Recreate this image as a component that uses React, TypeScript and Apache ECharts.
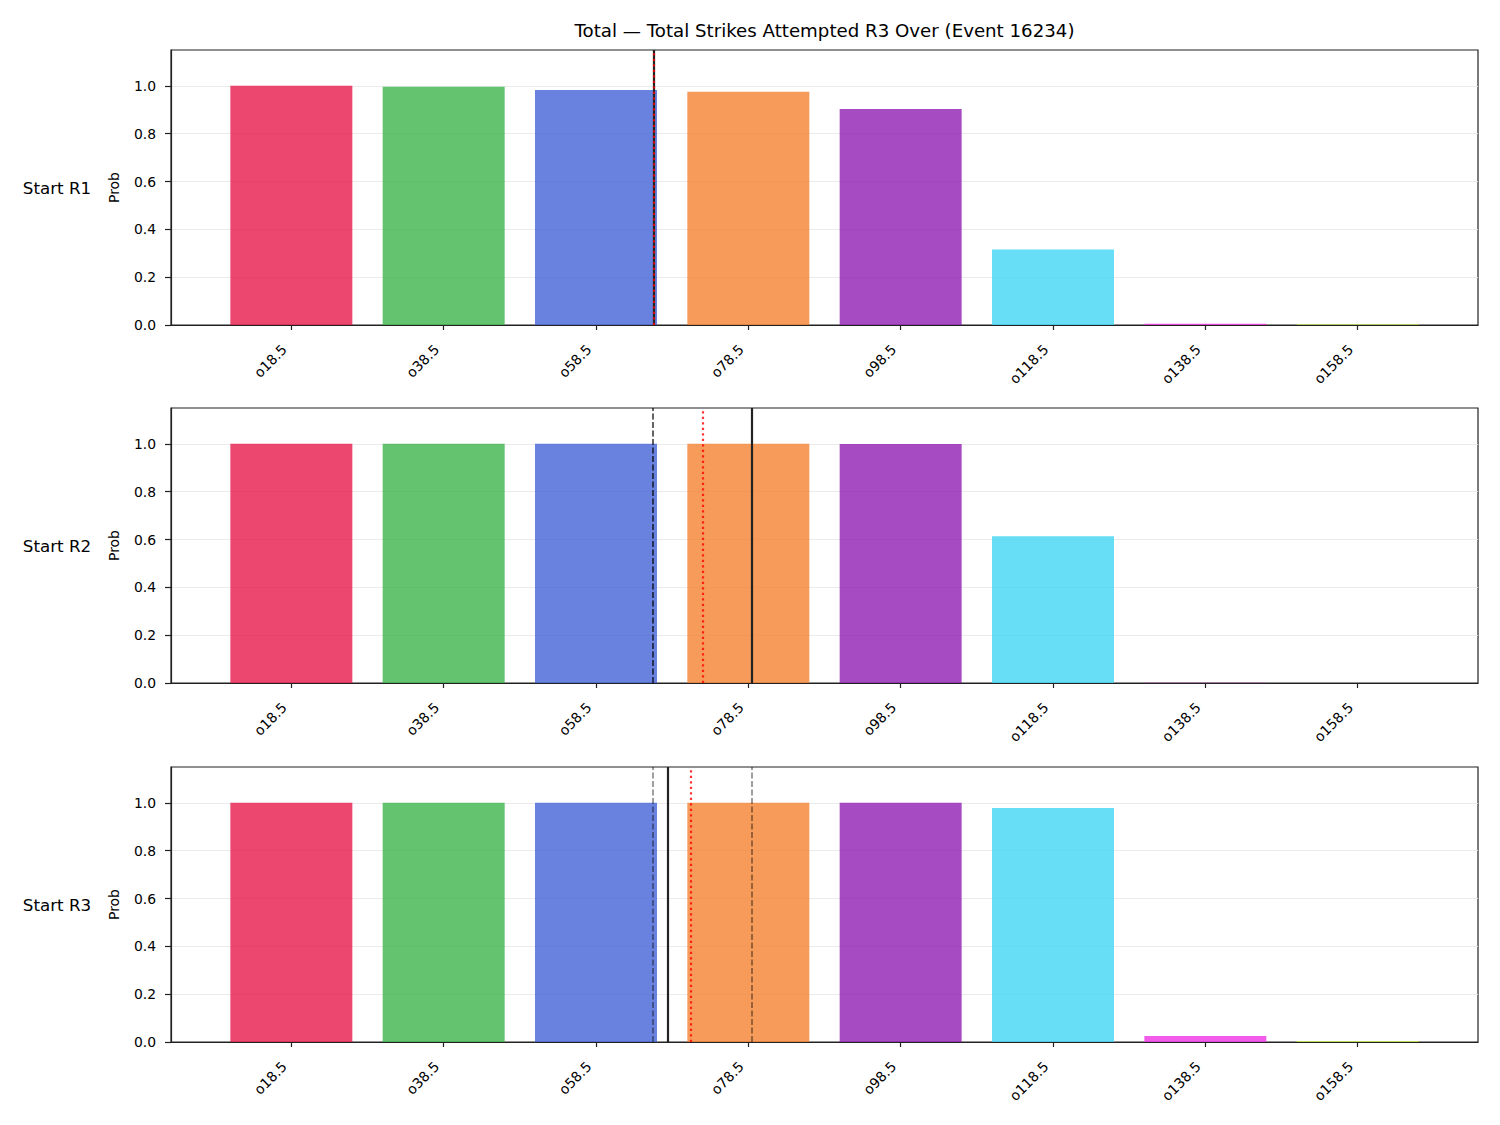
import React, { useEffect, useRef } from "react";
import * as echarts from "echarts";

const categories = ["o18.5", "o38.5", "o58.5", "o78.5", "o98.5", "o118.5", "o138.5", "o158.5"];
const barColors = ["#e6194b", "#3cb44b", "#4363d8", "#f58231", "#911eb4", "#42d4f4", "#f032e6", "#bfef45"];
const panelNames = ["Start R1", "Start R2", "Start R3"];

const probsR1 = [1.0, 0.996, 0.983, 0.975, 0.903, 0.316, 0.005, 0.003];
const probsR2 = [1.0, 1.0, 1.0, 1.0, 0.999, 0.614, 0.001, 0.0005];
const probsR3 = [1.0, 1.0, 1.0, 1.0, 1.0, 0.979, 0.025, 0.004];
const panelProbs = [probsR1, probsR2, probsR3];

// vertical reference lines, in category-index units
const dashedLo = [2.375, 2.371, 2.371];
const dashedHi = [2.375, 2.371, 3.023];
const solidLine = [2.375, 3.025, 2.474];
const dottedLine = [2.375, 2.703, 2.623];

const title = "Total — Total Strikes Attempted R3 Over (Event 16234)";
const yTicks = [0, 0.2, 0.4, 0.6, 0.8, 1.0];
const xTicks = [0, 1, 2, 3, 4, 5, 6, 7];

const FONT = "DejaVu Sans";
const tops = [50, 408, 767];
const H = 275;

export default function App() {
  const ref = useRef<HTMLDivElement>(null);
  useEffect(() => {
    document.body.style.margin = "0";
    if (!ref.current) return;
    const chart = echarts.init(ref.current, null, { renderer: "svg" });
    const grids = tops.map((t) => ({
      left: 171,
      right: 22,
      top: t,
      height: H,
      show: true,
      borderColor: "#222",
      borderWidth: 1.2,
      backgroundColor: "transparent",
    }));
    const xAxes = tops.map((_, k) => ({
      type: "value",
      gridIndex: k,
      min: -0.79,
      max: 7.79,
      splitLine: { show: false },
      axisLine: { show: true, onZero: false, lineStyle: { color: "#222", width: 1.2 } },
      axisTick: { show: true, length: 5, customValues: xTicks, lineStyle: { color: "#222", width: 1.2 } },
      axisLabel: {
        customValues: xTicks,
        rotate: 45,
        margin: 15,
        padding: [0, 10, 0, 0],
        fontFamily: FONT,
        fontSize: 13.9,
        color: "#000",
        formatter: (v: number) => categories[Math.round(v)] ?? "",
      },
    }));
    const yAxes = tops.map((_, k) => ({
      type: "value",
      gridIndex: k,
      min: 0,
      max: 1.15,
      name: "Prob",
      nameLocation: "middle",
      nameRotate: 90,
      nameGap: 50,
      nameTextStyle: { fontFamily: FONT, fontSize: 13.9, color: "#000" },
      axisLine: { show: true, onZero: false, lineStyle: { color: "#222", width: 1.2 } },
      axisTick: { show: true, length: 6, customValues: yTicks, lineStyle: { color: "#222", width: 1.2 } },
      splitLine: { show: true, lineStyle: { color: "#e6e6e6", width: 0.8 } },
      axisLabel: {
        customValues: yTicks,
        margin: 15,
        fontFamily: FONT,
        fontSize: 13.9,
        color: "#000",
        formatter: (v: number) => v.toFixed(1),
      },
    }));
    const series = panelProbs.map((probs, k) => ({
      type: "bar",
      xAxisIndex: k,
      yAxisIndex: k,
      barWidth: 122,
      data: probs.map((v, i) => ({
        value: [i, v],
        itemStyle: { color: barColors[i], opacity: 0.8 },
      })),
      markLine: {
        silent: true,
        symbol: ["none", "none"],
        label: { show: false },
        emphasis: { disabled: true },
        data: [
          { xAxis: dashedLo[k], lineStyle: { color: "rgba(0,0,0,0.5)", width: 1.5, type: [6, 2.5] } },
          { xAxis: dashedHi[k], lineStyle: { color: "rgba(0,0,0,0.5)", width: 1.5, type: [6, 2.5] } },
          { xAxis: solidLine[k], lineStyle: { color: "#222", width: 2.2, type: "solid" } },
          { xAxis: dottedLine[k], lineStyle: { color: "rgba(255,0,0,0.8)", width: 2.2, type: [2.2, 3.3] } },
        ],
      },
    }));
    const graphic: any[] = [
      {
        type: "text",
        x: 824.5,
        y: 30,
        style: { text: title, fontFamily: FONT, fontSize: 18.2, fill: "#000", align: "center", verticalAlign: "middle" },
      },
      ...panelNames.map((n, k) => ({
        type: "text",
        x: 57,
        y: tops[k] + H / 2,
        style: { text: n, fontFamily: FONT, fontSize: 16.7, fill: "#000", align: "center", verticalAlign: "middle" },
      })),
    ];
    chart.setOption({
      animation: false,
      grid: grids,
      xAxis: xAxes,
      yAxis: yAxes,
      series,
      graphic,
    } as any);
    return () => chart.dispose();
  }, []);
  return <div ref={ref} style={{ width: 1500, height: 1125 }} />;
}
